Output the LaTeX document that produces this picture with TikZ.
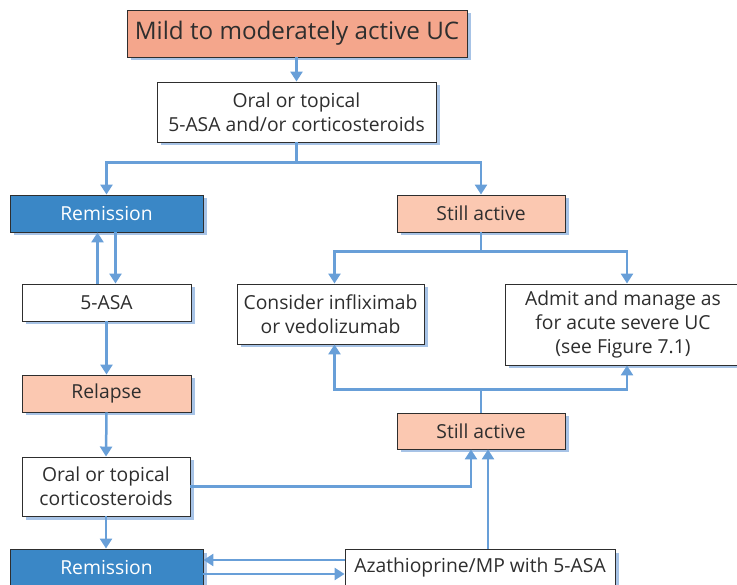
\documentclass[tikz,border=0pt]{standalone}
\usepackage{fontspec}
\setmainfont{Open Sans}
\usetikzlibrary{shadows,arrows.meta}
\definecolor{salmon}{HTML}{F4A68C}
\definecolor{peach}{HTML}{FBC8B1}
\definecolor{remblue}{HTML}{3A87C6}
\definecolor{linkblue}{HTML}{689FD8}
\definecolor{shadowblue}{HTML}{A7C3E6}
\definecolor{txt}{HTML}{2E2E2E}
\begin{document}
\begin{tikzpicture}[x=1pt,y=-1pt,
  box/.style={draw=txt, line width=0.9pt, inner sep=0pt, align=center, text=txt, fill=white,
    font=\fontsize{19.3}{24}\selectfont,
    drop shadow={shadow xshift=3.5pt, shadow yshift=-3.5pt, fill=shadowblue, opacity=1}},
  arr/.style={draw=linkblue, line width=2.5pt, -{Triangle[length=10pt,width=12pt]}},
]
\useasboundingbox (0,0) rectangle (737,585);
\clip (0,0) rectangle (737,585);

\node[box, fill=salmon, minimum width=340pt, minimum height=47pt, font=\fontsize{24.2}{28}\selectfont] (top) at (297,33.5) {Mild to moderately active UC};
\node[box, minimum width=279pt, minimum height=60pt] (b2) at (296.5,112) {Oral or topical\\5-ASA and/or corticosteroids};
\node[box, fill=remblue, text=white, minimum width=193pt, minimum height=37pt] (rem1) at (106.5,213.5) {Remission};
\node[box, fill=peach, minimum width=168pt, minimum height=37pt] (sa1) at (481,213.5) {Still active};
\node[box, minimum width=187pt, minimum height=60pt] (cons) at (330.5,314) {Consider infliximab\\or vedolizumab};
\node[box, minimum width=236pt, minimum height=81pt] (adm) at (623,324.5) {Admit and manage as\\for acute severe UC\\(see Figure 7.1)};
\node[box, minimum width=169pt, minimum height=37pt] (asa) at (106.5,302.5) {5-ASA};
\node[box, fill=peach, minimum width=169pt, minimum height=37pt] (rel) at (106.5,393.5) {Relapse};
\node[box, minimum width=168pt, minimum height=59pt] (oc) at (106,486.5) {Oral or topical\\corticosteroids};
\node[box, fill=peach, minimum width=168pt, minimum height=36pt] (sa2) at (481,431) {Still active};
\node[box, fill=remblue, text=white, minimum width=193pt, minimum height=37pt] (rem2) at (106.5,567.5) {Remission};
\node[box, minimum width=270pt, minimum height=37pt] (aza) at (480,567.5) {Azathioprine/MP with 5-ASA};

\draw[arr] (top.south -| b2.north) -- (b2.north);
\draw[arr] (b2.south) -- ++(0,20) -| (rem1.north);
\draw[arr] (b2.south) -- ++(0,20) -| (sa1.north);
\draw[arr] (sa1.south) -- ++(0,19) -| ([xshift=4pt]cons.north);
\draw[arr] (sa1.south) -- ++(0,19) -| ([xshift=4pt]adm.north);
\draw[arr] (sa2.north) -- ++(0,-23) -| ([xshift=4pt]cons.south);
\draw[arr] (sa2.north) -- ++(0,-23) -| ([xshift=4pt]adm.south);
\draw[arr] ([xshift=-9pt]asa.north) -- ([xshift=-9pt]asa.north |- rem1.south);
\draw[arr] ([xshift=9pt]rem1.south) -- ([xshift=9pt]rem1.south |- asa.north);
\draw[arr] (asa.south) -- (rel.north);
\draw[arr] (rel.south) -- (oc.north);
\draw[arr] (oc.south) -- (oc.south |- rem2.north);
\draw[arr] (oc.east) -| ([xshift=-10pt]sa2.south);
\draw[arr] ([xshift=8pt]aza.north) -- ([xshift=8pt]aza.north |- sa2.south);
\draw[arr] ([yshift=7.5pt]aza.west) -- ([yshift=7.5pt]aza.west -| rem2.east);
\draw[arr] ([yshift=-6.5pt]rem2.east) -- ([yshift=-6.5pt]rem2.east -| aza.west);
\end{tikzpicture}
\end{document}
